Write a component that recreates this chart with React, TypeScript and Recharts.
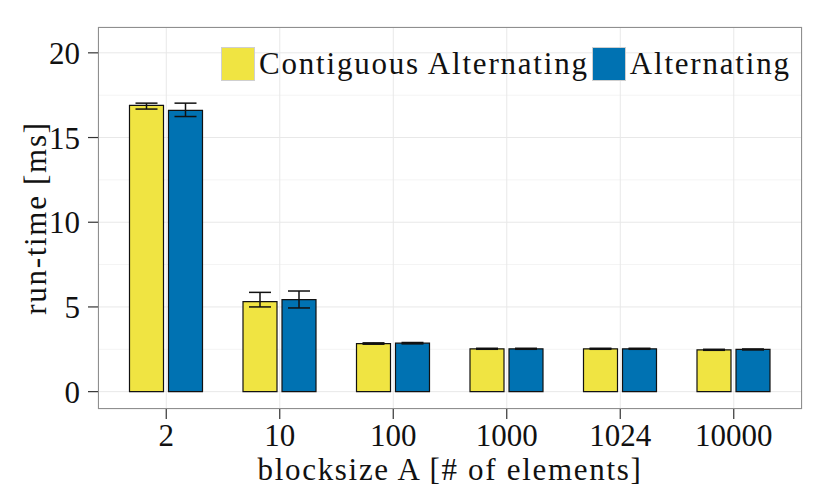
import { Bar, BarChart, CartesianGrid, ErrorBar, Label, Legend, XAxis, YAxis } from "recharts";

const blockSizes = ["2", "10", "100", "1000", "1024", "10000"];
const contiguousMs = [16.9, 5.31, 2.84, 2.53, 2.53, 2.47];
const contiguousErr = [[0.22, 0.13], [0.31, 0.55], [0.04, 0.04], [0.03, 0.03], [0.03, 0.03], [0.03, 0.03]];
const alternatingMs = [16.6, 5.43, 2.86, 2.53, 2.53, 2.49];
const alternatingErr = [[0.36, 0.43], [0.49, 0.51], [0.04, 0.04], [0.03, 0.03], [0.03, 0.03], [0.03, 0.03]];
const yTicks = [0, 5, 10, 15, 20];
const yMinor = [2.5, 7.5, 12.5, 17.5];

const series = [
  { key: "contiguous", name: "Contiguous Alternating", color: "#F0E442" },
  { key: "alternating", name: "Alternating", color: "#0072B2" },
];

const data = blockSizes.map((size, i) => ({
  size,
  contiguous: contiguousMs[i],
  contiguousErr: contiguousErr[i],
  alternating: alternatingMs[i],
  alternatingErr: alternatingErr[i],
}));

const FONT = "'Liberation Serif', 'Times New Roman', serif";
const tickStyle = { fontSize: 31, fill: "#111", fontFamily: FONT };
// computer modern is wider than Times, so spread the word labels a little
const titleStyle = { ...tickStyle, letterSpacing: 1.7 };

function LegendBox() {
  return (
    <div style={{ display: "flex", alignItems: "center", fontFamily: FONT, fontSize: 31, color: "#111", letterSpacing: 1.8 }}>
      {series.map((s) => (
        <div key={s.key} style={{ display: "flex", alignItems: "center" }}>
          <span
            style={{
              display: "inline-block",
              width: 34,
              height: 34,
              background: s.color,
              border: "1px solid #cfcfcf",
              boxSizing: "border-box",
              marginRight: 4,
            }}
          />
          <span style={{ marginRight: 3, whiteSpace: "nowrap" }}>{s.name}</span>
        </div>
      ))}
    </div>
  );
}

export default function App() {
  return (
    <div style={{ position: "absolute", left: 0, top: 0, width: 830, height: 498, background: "#fff" }}>
      <BarChart
        width={830}
        height={498}
        data={data}
        margin={{ top: 27, right: 28, left: 0, bottom: 0 }}
        barGap={5}
        barSize={34}
      >
        <CartesianGrid stroke="#f4f4f4" vertical={false} horizontalValues={yMinor} />
        <CartesianGrid stroke="#e8e8e8" />
        <XAxis
          dataKey="size"
          height={89}
          padding={{ left: 11.5, right: 11.5 }}
          axisLine={false}
          tickLine={{ stroke: "#333", strokeWidth: 1.2 }}
          tickSize={10}
          tickMargin={5}
          tick={tickStyle}
        >
          <Label
            content={(props: any) => {
              const vb = props.viewBox;
              return (
                <text
                  x={vb.x + vb.width / 2}
                  y={vb.y + 71}
                  textAnchor="middle"
                  style={titleStyle}
                >
                  blocksize A [# of elements]
                </text>
              );
            }}
          />
        </XAxis>
        <YAxis
          type="number"
          width={98}
          domain={[-1.025, 21.525]}
          ticks={yTicks}
          allowDataOverflow
          axisLine={false}
          tickLine={{ stroke: "#333", strokeWidth: 1.2 }}
          tickSize={10}
          tickMargin={8}
          tick={tickStyle}
        >
          <Label
            content={(props: any) => {
              const vb = props.viewBox;
              const cx = vb.x + 35;
              const cy = vb.y + vb.height / 2;
              return (
                <text
                  x={cx}
                  y={cy}
                  transform={`rotate(-90 ${cx} ${cy})`}
                  textAnchor="middle"
                  dominantBaseline="central"
                  style={titleStyle}
                >
                  run-time [ms]
                </text>
              );
            }}
          />
        </YAxis>
        <Legend
          layout="horizontal"
          verticalAlign="middle"
          align="center"
          wrapperStyle={{ top: 46, left: 221, width: "auto" }}
          content={() => <LegendBox />}
        />
        {series.map((s) => (
          <Bar
            key={s.key}
            dataKey={s.key}
            name={s.name}
            fill={s.color}
            stroke="#111"
            strokeWidth={1.2}
            isAnimationActive={false}
          >
            <ErrorBar dataKey={`${s.key}Err`} width={11} stroke="#111" strokeWidth={1.5} />
          </Bar>
        ))}
      </BarChart>
      <div
        style={{
          position: "absolute",
          left: 98,
          top: 27,
          width: 704,
          height: 382,
          border: "1px solid #8f8f8f",
          boxSizing: "border-box",
          pointerEvents: "none",
        }}
      />
    </div>
  );
}
